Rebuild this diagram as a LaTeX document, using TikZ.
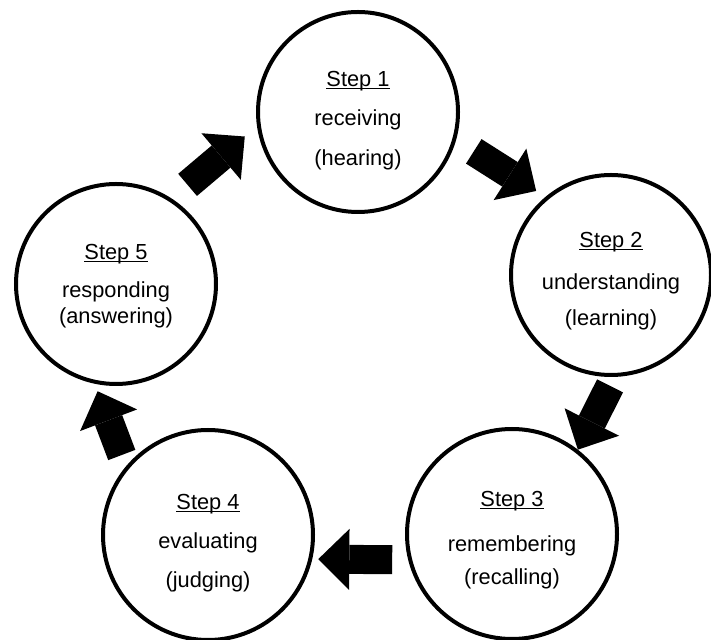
\documentclass[tikz,border=0pt]{standalone}
\usepackage{fontspec}
\setmainfont{Liberation Sans}
\usetikzlibrary{arrows.meta}

\newcommand{\steptitle}[1]{\setbox0\hbox{#1}\rlap{\rule[-3pt]{\wd0}{1.4pt}}\box0}

\begin{document}
\begin{tikzpicture}[x=1pt, y=1pt,
    stepcircle/.style={circle, draw, line width=4pt, minimum size=200pt, inner sep=0pt,
        align=center, font=\fontsize{21.8}{40}\selectfont},
    bigarrow/.style={line width=29pt, -{Triangle[width=61pt, length=31pt, line width=0pt]}}]
        \useasboundingbox (0,0) rectangle (711,639);
        \node[stepcircle, text height=110.6pt](s1) at (358,527) {\steptitle{Step 1}\\[-1pt]receiving\\(hearing)};
        \node[stepcircle, text height=104.6pt](s2) at (611,364) {\steptitle{Step 2}\\[2pt]understanding\\[-4pt](learning)};
        \node[stepcircle, text height=104.6pt, minimum size=210pt](s3) at (512,105) {\steptitle{Step 3}\\[5pt]remembering\\[-7pt](recalling)};
        \node[stepcircle, text height=108.6pt, minimum size=210pt](s4) at (208,104) {\steptitle{Step 4}\\[-1pt]evaluating\\[-1pt](judging)};
        \node[stepcircle, text height=82.6pt](s5) at (116,355) {\steptitle{Step 5}\\[-2pt]responding\\[-14pt](answering)};
        \draw[bigarrow, shorten <=21pt, shorten >=11pt] (s1.-16) -- (s2.130);
        \draw[bigarrow, shorten <=10pt, shorten >=0pt] (s2.-88) -- (s3.52);
        \draw[bigarrow, shorten <=16pt, shorten >=6pt] (s3.-166) -- (s4.-13.5);
        \draw[bigarrow, shorten <=12pt, shorten >=8pt] (s4.140) -- (s5.-102);
        \draw[bigarrow, shorten <=21pt, shorten >=16pt] (s5.57) -- (s1.188);
\end{tikzpicture}
\end{document}
